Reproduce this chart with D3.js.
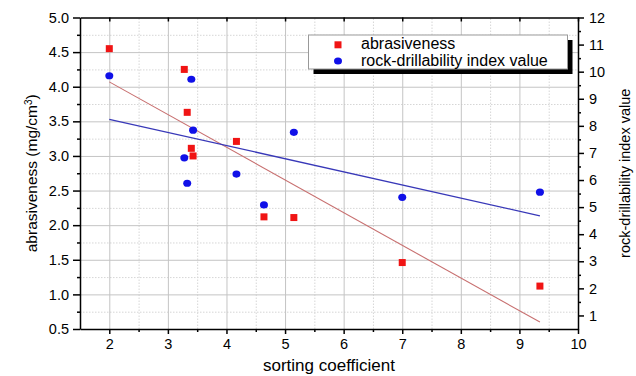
<!DOCTYPE html>
<html>
<head>
<meta charset="utf-8">
<script src="https://cdn.jsdelivr.net/npm/d3@7"></script>
<style>
  body { margin: 0; background: #fff; }
  svg { font-family: "Liberation Sans", Arial, sans-serif; }
  .axis path, .axis line { stroke: #000; stroke-width: 1.5; }
  .axis text { font-size: 14.5px; fill: #000; }
</style>
</head>
<body>
<div class="chart"></div>
<script>
// data
let sortCoef     = [2.0, 3.28, 3.33, 3.40, 3.43, 4.17, 4.64, 5.15, 7.0, 9.35];
let abrasiveness = [4.55, 4.25, 3.63, 3.11, 3.00, 3.21, 2.12, 2.11, 1.46, 1.12];
let drillIndex   = [9.85, 6.82, 5.88, 9.72, 7.84, 6.22, 5.08, 7.76, 5.36, 5.55];

// fitted lines (end points)
let fitX     = [2.0, 9.35];
let abrFit   = [4.07, 0.60];
let drillFit = [8.24, 4.68];

let xTicks  = [2, 3, 4, 5, 6, 7, 8, 9, 10];
let yLTicks = [0.5, 1.0, 1.5, 2.0, 2.5, 3.0, 3.5, 4.0, 4.5, 5.0];
let yRTicks = [1, 2, 3, 4, 5, 6, 7, 8, 9, 10, 11, 12];
let seriesNames = ["abrasiveness", "rock-drillability index value"];

let margin = {top: 17.5, right: 58, bottom: 47, left: 80},
    width = 636 - margin.left - margin.right,
    height = 376 - margin.top - margin.bottom;

let svg = d3.select(".chart")
  .append("svg")
    .attr("width", 636)
    .attr("height", 376);

let g = svg.append("g")
    .attr("transform", "translate(" + margin.left + "," + margin.top + ")");

let x = d3.scaleLinear().domain([1.5, 10]).range([0, width]);
let yL = d3.scaleLinear().domain([0.5, 5.0]).range([height, 0]);
let yR = d3.scaleLinear().domain([0.5, 12]).range([height, 0]);

// minor positions
let xMinor = xTicks.map(function(d){ return d - 0.5; }).filter(function(d){ return d > 1.5; });
let yLMinor = yLTicks.slice(0, -1).map(function(d){ return d + 0.25; });
let yRMinor = yRTicks.map(function(d){ return d - 0.5; }).filter(function(d){ return d > 0.5; });

// grid
function grid(axis, cls, color, dash){
  let gg = g.append("g").attr("class", cls);
  gg.call(axis);
  gg.select(".domain").remove();
  gg.selectAll("text").remove();
  gg.selectAll("line").attr("stroke", color).attr("stroke-width", 1)
    .attr("stroke-dasharray", dash);
  return gg;
}
grid(d3.axisBottom(x).tickValues(xMinor).tickSize(-height), "gx2", "#d6d6d6", "1.5,1.5")
  .attr("transform", "translate(0," + height + ")");
grid(d3.axisLeft(yL).tickValues(yLMinor).tickSize(-width), "gy2", "#d6d6d6", "1.5,1.5");
grid(d3.axisBottom(x).tickValues(xTicks.slice(0, -1)).tickSize(-height), "gx", "#c4c4c4", null)
  .attr("transform", "translate(0," + height + ")");
grid(d3.axisLeft(yL).tickValues(yLTicks.slice(1, -1)).tickSize(-width), "gy", "#c4c4c4", null);

// fit lines
let fitLine = function(ys, yScale){
  return d3.line()
    .x(function(d, i){ return x(fitX[i]); })
    .y(function(d){ return yScale(d); })(ys);
};
g.append("path").attr("d", fitLine(abrFit, yL))
  .attr("fill", "none").attr("stroke", "#c87070").attr("stroke-width", 1.1);
g.append("path").attr("d", fitLine(drillFit, yR))
  .attr("fill", "none").attr("stroke", "#3838b8").attr("stroke-width", 1.3);

// points
g.selectAll("rect.abr").data(abrasiveness).enter()
  .append("rect")
    .attr("class", "abr")
    .attr("x", function(d, i){ return x(sortCoef[i]) - 3.5; })
    .attr("y", function(d){ return yL(d) - 3.5; })
    .attr("width", 7)
    .attr("height", 7)
    .attr("fill", "#f01414");

g.selectAll("ellipse.drill").data(drillIndex).enter()
  .append("ellipse")
    .attr("class", "drill")
    .attr("cx", function(d, i){ return x(sortCoef[i]); })
    .attr("cy", function(d){ return yR(d); })
    .attr("rx", 4)
    .attr("ry", 3.6)
    .attr("fill", "#1010e8");

// axes
g.append("g").attr("class", "axis")
  .attr("transform", "translate(0," + height + ")")
  .call(d3.axisBottom(x).tickValues(xTicks).tickSize(5).tickSizeOuter(0).tickPadding(5));
g.append("g").attr("class", "axis")
  .attr("transform", "translate(0," + height + ")")
  .call(d3.axisBottom(x).tickValues(xMinor).tickSize(3).tickFormat(""))
  .select(".domain").remove();

g.append("g").attr("class", "axis")
  .call(d3.axisTop(x).tickValues(xTicks).tickSize(-4).tickSizeOuter(0).tickFormat(""));

g.append("g").attr("class", "axis")
  .call(d3.axisLeft(yL).tickValues(yLTicks).tickSize(7).tickSizeOuter(0).tickPadding(4)
    .tickFormat(d3.format(".1f")));
g.append("g").attr("class", "axis")
  .call(d3.axisLeft(yL).tickValues(yLMinor).tickSize(3).tickFormat(""))
  .select(".domain").remove();

g.append("g").attr("class", "axis")
  .attr("transform", "translate(" + width + ",0)")
  .call(d3.axisRight(yR).tickValues(yRTicks).tickSize(6).tickSizeOuter(0).tickPadding(5));
g.append("g").attr("class", "axis")
  .attr("transform", "translate(" + width + ",0)")
  .call(d3.axisRight(yR).tickValues(yRMinor).tickSize(3).tickFormat(""))
  .select(".domain").remove();

// axis titles
svg.append("text")
  .attr("x", margin.left + width / 2)
  .attr("y", 371)
  .attr("text-anchor", "middle")
  .style("font-size", "17px")
  .text("sorting coefficient");

let lt = svg.append("text")
  .attr("transform", "translate(37," + (margin.top + height / 2) + ") rotate(-90)")
  .attr("text-anchor", "middle")
  .style("font-size", "15.5px");
lt.append("tspan").text("abrasiveness (mg/cm");
lt.append("tspan").attr("baseline-shift", "super").style("font-size", "10px").text("3");
lt.append("tspan").text(")");

svg.append("text")
  .attr("transform", "translate(630," + (margin.top + height / 2) + ") rotate(-90)")
  .attr("text-anchor", "middle")
  .style("font-size", "14.5px")
  .text(seriesNames[1]);

// legend
let lg = svg.append("g").attr("transform", "translate(308.5,35)");
lg.append("rect").attr("x", 5).attr("y", 5).attr("width", 259).attr("height", 34).attr("fill", "#000");
lg.append("rect").attr("x", 0).attr("y", 0).attr("width", 259).attr("height", 34)
  .attr("fill", "#fff").attr("stroke", "#999").attr("stroke-width", 1);
lg.append("rect").attr("x", 26).attr("y", 6.3).attr("width", 7).attr("height", 7).attr("fill", "#f01414");
lg.append("ellipse").attr("cx", 29.5).attr("cy", 26).attr("rx", 4).attr("ry", 3.6).attr("fill", "#1010e8");
lg.selectAll("text.lab").data(seriesNames).enter()
  .append("text")
    .attr("class", "lab")
    .attr("x", 52.5)
    .attr("y", function(d, i){ return 14 + i * 16.5; })
    .style("font-size", "16px")
    .text(function(d){ return d; });
</script>
</body>
</html>
